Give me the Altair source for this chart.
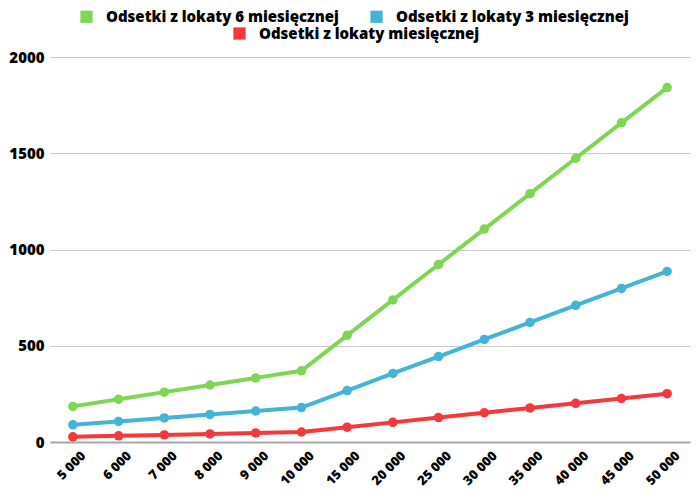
import altair as alt
import pandas as pd

amounts = ["5 000", "6 000", "7 000", "8 000", "9 000", "10 000", "15 000",
           "20 000", "25 000", "30 000", "35 000", "40 000", "45 000", "50 000"]
six_month = [185, 222, 259, 296, 333, 370, 554, 738, 922, 1106, 1290, 1474, 1658, 1841]
three_month = [89, 107, 125, 143, 161, 179, 267, 356, 444, 533, 621, 710, 798, 886]
monthly = [27, 32, 37, 42, 47, 52, 77, 102, 127, 152, 177, 201, 226, 251]

s6 = "Odsetki z lokaty 6 miesięcznej"
s3 = "Odsetki z lokaty 3 miesięcznej"
s1 = "Odsetki z lokaty miesięcznej"

rows = []
for a, v6, v3, v1 in zip(amounts, six_month, three_month, monthly):
    rows.append({"kwota": a, "seria": s6, "wartosc": v6})
    rows.append({"kwota": a, "seria": s3, "wartosc": v3})
    rows.append({"kwota": a, "seria": s1, "wartosc": v1})
df = pd.DataFrame(rows)
df["linia"] = df["seria"]

GREEN = "#7fd655"
BLUE = "#42b5d6"
RED = "#f5383b"
FONT = "Open Sans"
WEIGHT = 800

x_enc = alt.X("kwota:O", sort=amounts, title=None,
              axis=alt.Axis(labelAngle=-45, labelFont=FONT, labelFontWeight=WEIGHT,
                            labelFontSize=13, labelColor="#000", ticks=False,
                            domainColor="#a8a8a8", domainWidth=2, labelPadding=7,
                            labelOffset=6))
y_enc = alt.Y("wartosc:Q", title=None, scale=alt.Scale(domain=[0, 2000]),
              axis=alt.Axis(values=[0, 500, 1000, 1500, 2000], format="d", labelFont=FONT,
                            labelFontWeight=WEIGHT, labelFontSize=15, labelColor="#000",
                            ticks=False, domain=False, gridColor="#cccccc", gridWidth=1,
                            labelPadding=6))

def legend(x, y):
    return alt.Legend(orient="none", legendX=x, legendY=y, direction="horizontal",
                      symbolType="square", symbolSize=150, symbolStrokeWidth=0,
                      labelFont=FONT, labelFontWeight=WEIGHT, labelFontSize=15,
                      labelColor="#000", labelOffset=12, columnPadding=30, labelLimit=400)

def layers(series, colors, lx, ly):
    d = df[df["seria"].isin(series)]
    base = alt.Chart(d)
    line = base.mark_line(strokeWidth=4).encode(
        x=x_enc, y=y_enc,
        stroke=alt.Stroke("linia:N", scale=alt.Scale(domain=series, range=colors), legend=None))
    pts = base.mark_point(filled=True, size=90, opacity=1).encode(
        x=x_enc, y=y_enc,
        color=alt.Color("seria:N", title=None, scale=alt.Scale(domain=series, range=colors),
                        legend=legend(lx, ly)))
    return line, pts

l1, p1 = layers([s6, s3], [GREEN, BLUE], 29, -48)
l2, p2 = layers([s1], [RED], 182, -31)

chart = alt.layer(l2, l1, p2, p1).resolve_scale(color="independent", stroke="independent").properties(
    width=640, height=385,
    autosize=alt.AutoSizeParams(type="none"),
    padding={"left": 42, "top": 49, "right": 2, "bottom": 48},
).configure_view(stroke=None)

chart.save("out.html", embed_options={"renderer": "svg", "actions": False})
